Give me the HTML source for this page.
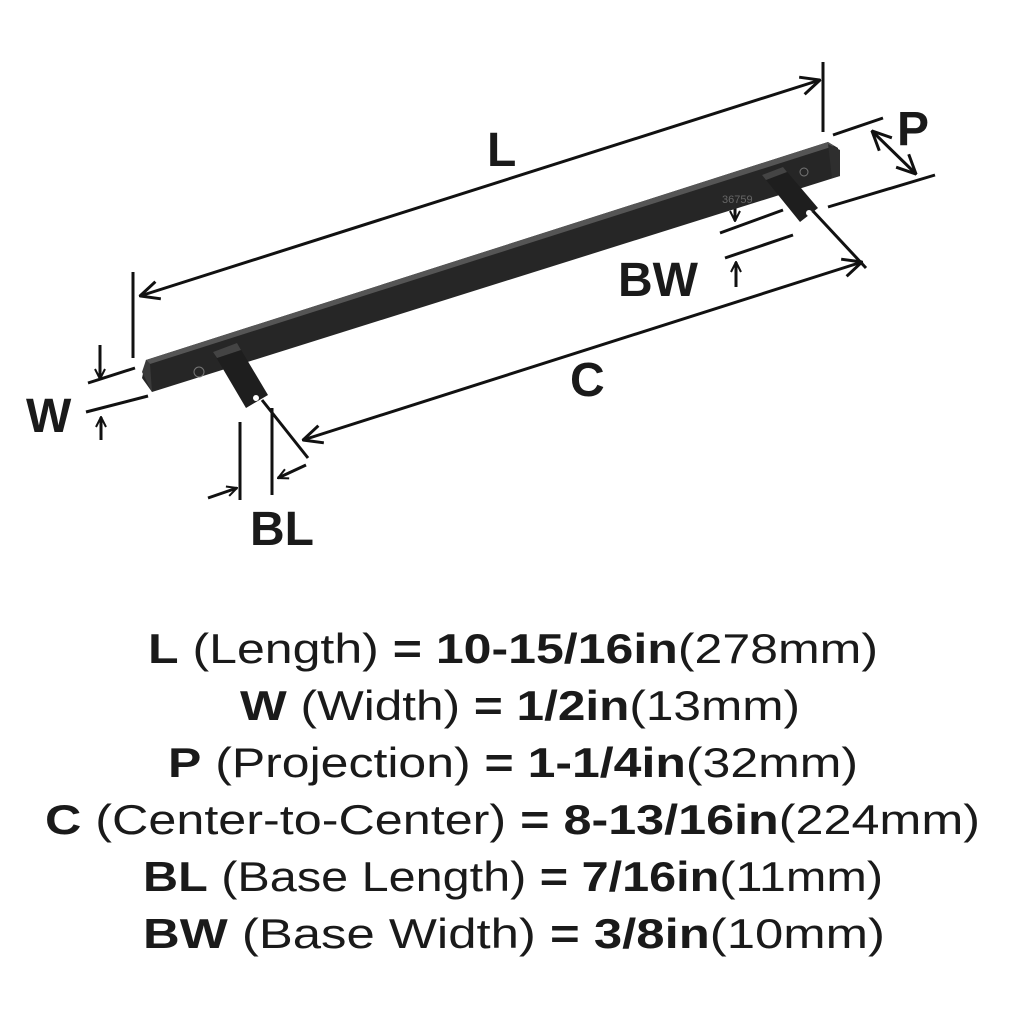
<!DOCTYPE html>
<html><head><meta charset="utf-8"><style>
html,body{margin:0;padding:0;background:#fff;}
svg{display:block;}
text{font-family:"Liberation Sans",sans-serif;fill:#1a1a1a;}
</style></head><body>
<svg width="1024" height="1024" viewBox="0 0 1024 1024" xmlns="http://www.w3.org/2000/svg">
<defs>
<marker id="a" viewBox="0 0 12 12" refX="11" refY="6" markerWidth="12" markerHeight="12" markerUnits="userSpaceOnUse" orient="auto-start-reverse">
<path d="M1,1 L11,6 L1,11" fill="none" stroke="#111" stroke-width="2"/>
</marker>
<marker id="b" viewBox="0 0 22 22" refX="21" refY="11" markerWidth="22" markerHeight="22" markerUnits="userSpaceOnUse" orient="auto-start-reverse">
<path d="M2,2 L21,11 L2,20" fill="none" stroke="#111" stroke-width="3"/>
</marker>
</defs>
<g stroke="#111" stroke-width="3" fill="none">
<line x1="133" y1="272" x2="133" y2="358"/>
<line x1="823" y1="62" x2="823" y2="132"/>
<line x1="140" y1="296" x2="820" y2="80" marker-start="url(#b)" marker-end="url(#b)"/>
<line x1="833" y1="135" x2="883" y2="118"/>
<line x1="828" y1="207" x2="935" y2="175"/>
<line x1="872" y1="131" x2="916" y2="174" marker-start="url(#b)" marker-end="url(#b)"/>
<line x1="720" y1="233" x2="783" y2="210"/>
<line x1="725" y1="258" x2="793" y2="235"/>
<line x1="735" y1="195" x2="735" y2="221" marker-end="url(#a)"/>
<line x1="736" y1="287" x2="736" y2="262" marker-end="url(#a)"/>
<line x1="303" y1="440" x2="862" y2="262" marker-start="url(#b)" marker-end="url(#b)"/>
<line x1="262" y1="400" x2="308" y2="458"/>
<line x1="812" y1="210" x2="866" y2="268"/>
<line x1="88" y1="383" x2="135" y2="368"/>
<line x1="86" y1="412" x2="148" y2="396"/>
<line x1="100" y1="345" x2="100" y2="379" marker-end="url(#a)"/>
<line x1="101" y1="440" x2="101" y2="417" marker-end="url(#a)"/>
<line x1="240" y1="422" x2="240" y2="500"/>
<line x1="272" y1="408" x2="272" y2="495"/>
<line x1="208" y1="498" x2="237" y2="488" marker-end="url(#a)"/>
<line x1="306" y1="465" x2="278" y2="478" marker-end="url(#a)"/>
</g>
<polygon points="146,360 828,142 838,148 840,176 152,392 142,378" fill="#262626"/>
<polygon points="146,360 828,142 834,146 150,364" fill="#555"/>
<polygon points="142,372 152,392 150,364 146,360" fill="#3a3a3a"/>
<polygon points="828,144 840,150 840,176 832,178" fill="#2e2e2e"/>
<polygon points="213,352 237,343 268,395 246,408" fill="#1e1e1e"/>
<polygon points="213,352 237,343 241,350 217,358" fill="#444"/>
<circle cx="256" cy="398" r="3" fill="#fff"/>
<polygon points="762,175 783,167 818,208 800,222" fill="#1e1e1e"/>
<polygon points="762,175 783,167 787,172 766,180" fill="#444"/>
<circle cx="809" cy="213" r="3" fill="#fff"/>
<circle cx="199" cy="372" r="5" fill="none" stroke="#777" stroke-width="1"/>
<circle cx="804" cy="172" r="4" fill="none" stroke="#777" stroke-width="1"/>
<text x="722" y="203" font-size="11" style="fill:#666">36759</text>
<g font-weight="bold" font-size="48">
<text x="487" y="166">L</text>
<text x="897" y="145">P</text>
<text x="618" y="296">BW</text>
<text x="570" y="396">C</text>
<text x="26" y="432">W</text>
<text x="250" y="545">BL</text>
</g>
<g font-size="42">
<text x="148" y="663" textLength="730" lengthAdjust="spacingAndGlyphs"><tspan font-weight="bold">L</tspan> (Length) <tspan font-weight="bold">= 10-15/16in</tspan>(278mm)</text>
<text x="240" y="720" textLength="560" lengthAdjust="spacingAndGlyphs"><tspan font-weight="bold">W</tspan> (Width) <tspan font-weight="bold">= 1/2in</tspan>(13mm)</text>
<text x="168" y="777" textLength="690" lengthAdjust="spacingAndGlyphs"><tspan font-weight="bold">P</tspan> (Projection) <tspan font-weight="bold">= 1-1/4in</tspan>(32mm)</text>
<text x="45" y="834" textLength="935" lengthAdjust="spacingAndGlyphs"><tspan font-weight="bold">C</tspan> (Center-to-Center) <tspan font-weight="bold">= 8-13/16in</tspan>(224mm)</text>
<text x="143" y="891" textLength="740" lengthAdjust="spacingAndGlyphs"><tspan font-weight="bold">BL</tspan> (Base Length) <tspan font-weight="bold">= 7/16in</tspan>(11mm)</text>
<text x="143" y="948" textLength="742" lengthAdjust="spacingAndGlyphs"><tspan font-weight="bold">BW</tspan> (Base Width) <tspan font-weight="bold">= 3/8in</tspan>(10mm)</text>
</g>
</svg>
</body></html>
